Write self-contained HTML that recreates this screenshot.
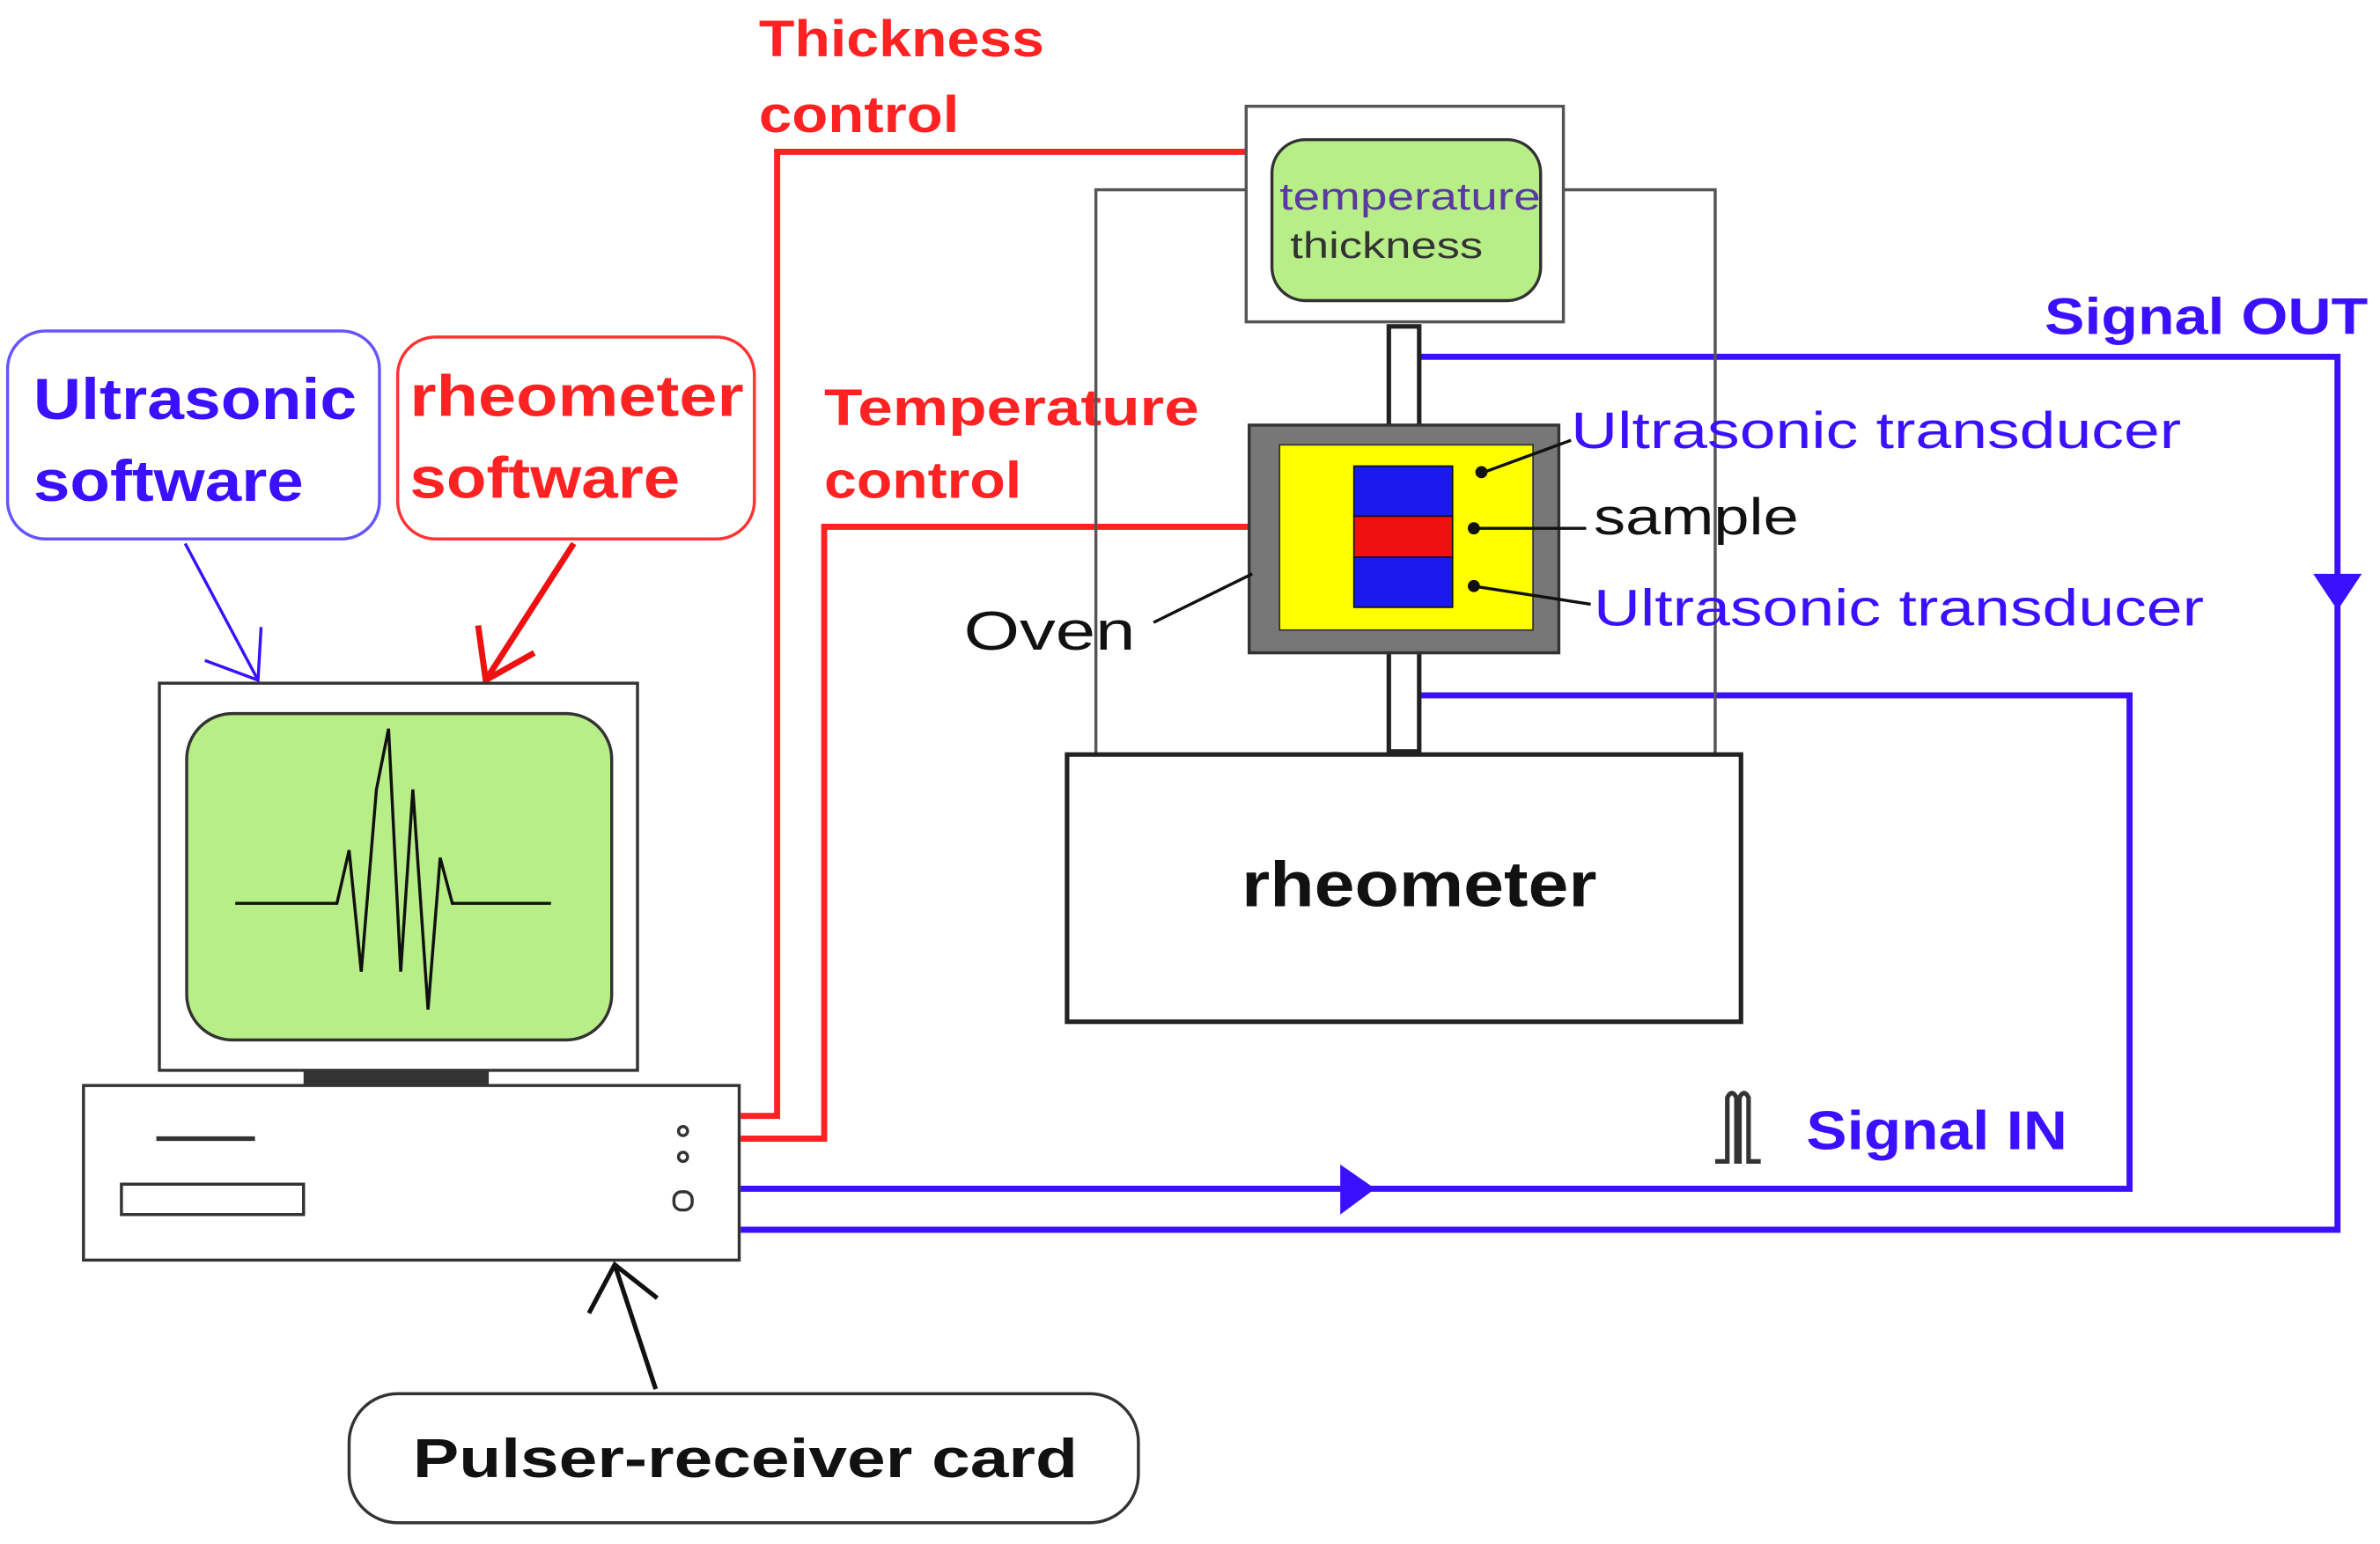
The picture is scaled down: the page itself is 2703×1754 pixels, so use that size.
<!DOCTYPE html>
<html><head><meta charset="utf-8"><style>html,body{margin:0;padding:0;background:#fff}svg{display:block}</style></head>
<body>
<svg width="2703" height="1754" viewBox="0 0 1568 1017" preserveAspectRatio="none" xmlns="http://www.w3.org/2000/svg" font-family="Liberation Sans, sans-serif" font-weight="bold">
<rect width="1568" height="1017" fill="#fff"/>
<g stroke="#ff2222" stroke-width="4" fill="none">
<polyline points="821,100 512,100 512,735 488,735"/>
<polyline points="823,347 543,347 543,750 488,750"/>
</g>
<g stroke="#3a10ff" stroke-width="4" fill="none">
<polyline points="935,235 1540,235 1540,810 488,810"/>
<polyline points="935,458 1403,458 1403,783 488,783"/>
</g>
<polygon points="1524,378 1556,378 1540,402" fill="#3a10ff"/>
<polygon points="883,767 883,800 906,783" fill="#3a10ff"/>
<text x="500" y="37" fill="#ff2222" font-size="34" textLength="188" lengthAdjust="spacingAndGlyphs">Thickness</text>
<text x="500" y="87" fill="#ff2222" font-size="34" textLength="132" lengthAdjust="spacingAndGlyphs">control</text>
<text x="543" y="280" fill="#ff2222" font-size="34" textLength="247" lengthAdjust="spacingAndGlyphs">Temperature</text>
<text x="543" y="328" fill="#ff2222" font-size="34" textLength="130" lengthAdjust="spacingAndGlyphs">control</text>
<rect x="722" y="125" width="408" height="372" fill="none" stroke="#555" stroke-width="2"/>
<rect x="821" y="70" width="209" height="142" fill="#fff" stroke="#555" stroke-width="2"/>
<rect x="838" y="92" width="177" height="106" rx="22" fill="#b8ee88" stroke="#333" stroke-width="2"/>
<text x="843" y="138" fill="#5a3aa0" font-size="25" font-weight="normal" textLength="172" lengthAdjust="spacingAndGlyphs">temperature</text>
<text x="850" y="170" fill="#333" font-size="24" font-weight="normal" textLength="127" lengthAdjust="spacingAndGlyphs">thickness</text>
<rect x="915" y="215" width="20" height="280" fill="#fff" stroke="#222" stroke-width="3"/>
<rect x="823" y="280" width="204" height="150" fill="#777" stroke="#333" stroke-width="2"/>
<rect x="843" y="293" width="167" height="122" fill="#ffff00" stroke="#333" stroke-width="1"/>
<rect x="892" y="307" width="65" height="33" fill="#1a1aee" stroke="#111" stroke-width="1"/>
<rect x="892" y="340" width="65" height="27" fill="#ee1111" stroke="#111" stroke-width="1"/>
<rect x="892" y="367" width="65" height="33" fill="#1a1aee" stroke="#111" stroke-width="1"/>
<g stroke="#111" stroke-width="2">
<line x1="1035" y1="290" x2="975" y2="312"/><line x1="1045" y1="348" x2="970" y2="348"/><line x1="1048" y1="398" x2="970" y2="386"/>
<line x1="760" y1="410" x2="825" y2="378"/>
</g>
<g fill="#111"><circle cx="976" cy="311" r="4"/><circle cx="971" cy="348" r="4"/><circle cx="971" cy="386" r="4"/></g>
<text x="1035" y="295" fill="#3a10ff" font-size="34" font-weight="normal" textLength="402" lengthAdjust="spacingAndGlyphs">Ultrasonic transducer</text>
<text x="1050" y="352" fill="#111" font-size="34" font-weight="normal" textLength="135" lengthAdjust="spacingAndGlyphs">sample</text>
<text x="1050" y="412" fill="#3a10ff" font-size="34" font-weight="normal" textLength="402" lengthAdjust="spacingAndGlyphs">Ultrasonic transducer</text>
<text x="635" y="428" fill="#111" font-size="36" font-weight="normal" textLength="113" lengthAdjust="spacingAndGlyphs">Oven</text>
<text x="1347" y="220" fill="#3a10ff" font-size="34" textLength="213" lengthAdjust="spacingAndGlyphs">Signal OUT</text>
<rect x="703" y="497" width="444" height="176" fill="#fff" stroke="#222" stroke-width="3"/>
<text x="818" y="597" fill="#111" font-size="42" textLength="234" lengthAdjust="spacingAndGlyphs">rheometer</text>
<path d="M1130,765 h8 v-42 q3,-6 6,0 v42 h2 v-42 q3,-6 6,0 v42 h8" fill="none" stroke="#333" stroke-width="3"/>
<text x="1190" y="757" fill="#3a10ff" font-size="36" textLength="172" lengthAdjust="spacingAndGlyphs">Signal IN</text>
<rect x="5" y="218" width="245" height="137" rx="25" fill="#fff" stroke="#6655ff" stroke-width="2"/>
<text x="22" y="276" fill="#3a10ff" font-size="38" textLength="213" lengthAdjust="spacingAndGlyphs">Ultrasonic</text>
<text x="22" y="330" fill="#3a10ff" font-size="38" textLength="178" lengthAdjust="spacingAndGlyphs">software</text>
<rect x="262" y="222" width="235" height="133" rx="25" fill="#fff" stroke="#ff3333" stroke-width="2"/>
<text x="270" y="274" fill="#ff2222" font-size="38" textLength="220" lengthAdjust="spacingAndGlyphs">rheometer</text>
<text x="270" y="328" fill="#ff2222" font-size="38" textLength="178" lengthAdjust="spacingAndGlyphs">software</text>
<g stroke="#3a10ff" stroke-width="2" fill="none"><line x1="122" y1="358" x2="170" y2="448"/><polyline points="135,435 170,448 172,413"/></g>
<g stroke="#ee1111" stroke-width="4" fill="none"><line x1="378" y1="358" x2="320" y2="448"/><polyline points="315,412 320,448 352,430"/></g>
<rect x="105" y="450" width="315" height="255" fill="#fff" stroke="#333" stroke-width="2"/>
<rect x="123" y="470" width="280" height="215" rx="30" fill="#b8ee88" stroke="#333" stroke-width="2"/>
<polyline points="155,595 222,595 230,560 238,640 248,520 256,480 264,640 272,520 282,665 290,565 298,595 363,595" fill="none" stroke="#111" stroke-width="2"/>
<rect x="200" y="705" width="122" height="10" fill="#333"/>
<rect x="55" y="715" width="432" height="115" fill="#fff" stroke="#333" stroke-width="2"/>
<line x1="103" y1="750" x2="168" y2="750" stroke="#333" stroke-width="3"/>
<rect x="80" y="780" width="120" height="20" fill="#fff" stroke="#333" stroke-width="2"/>
<circle cx="450" cy="745" r="3" fill="none" stroke="#333" stroke-width="2"/>
<circle cx="450" cy="762" r="3" fill="none" stroke="#333" stroke-width="2"/>
<rect x="444" y="785" width="12" height="12" rx="5" fill="none" stroke="#333" stroke-width="2"/>
<rect x="230" y="918" width="520" height="85" rx="32" fill="#fff" stroke="#333" stroke-width="2"/>
<text x="272" y="973" fill="#111" font-size="36" textLength="438" lengthAdjust="spacingAndGlyphs">Pulser-receiver card</text>
<g stroke="#111" stroke-width="3" fill="none"><line x1="432" y1="915" x2="405" y2="833"/><polyline points="388,865 405,833 433,855"/></g>
</svg>
</body></html>
